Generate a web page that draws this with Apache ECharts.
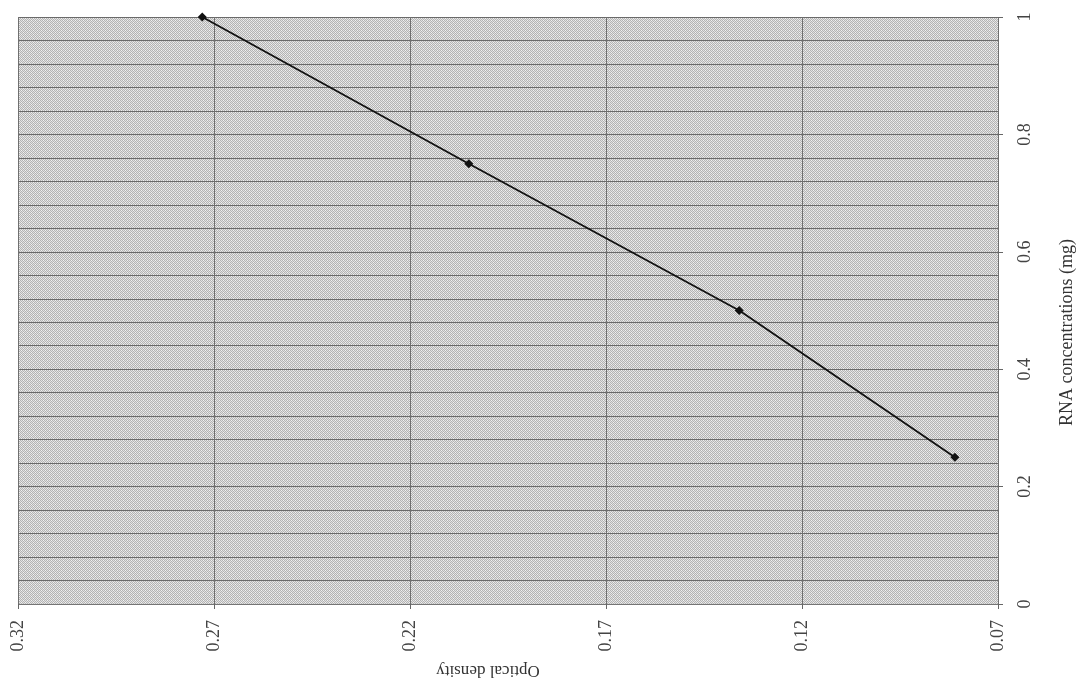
<!DOCTYPE html>
<html>
<head>
<meta charset="utf-8">
<script src="https://cdn.jsdelivr.net/npm/echarts@6/dist/echarts.min.js"></script>
<style>
html, body { margin: 0; padding: 0; background: #fff; }
#chart { width: 1076px; height: 688px; }
</style>
</head>
<body>
<div id="chart"></div>
<script>
// RNA concentration (mg) vs optical density, drawn turned on its side like the scan
var rnaConc = [0.25, 0.5, 0.75, 1];
var opticalDensity = [0.081, 0.136, 0.205, 0.273];
var odTicks = [0.07, 0.12, 0.17, 0.22, 0.27, 0.32];
var rnaTicks = [0, 0.2, 0.4, 0.6, 0.8, 1];

// dotted grey texture for the plot area
function makeTexture(){
	var c = document.createElement('canvas');
	c.width = 4; c.height = 4;
	var ctx = c.getContext('2d');
	ctx.fillStyle = '#e2e2e2';
	ctx.fillRect(0, 0, 4, 4);
	ctx.fillStyle = '#b3b3b3';
	var pts = [[0,0],[2,0],[1,1],[3,1],[0,2],[2,2],[1,3],[3,3]];
	for(var i=0;i<pts.length;i++){
		ctx.fillRect(pts[i][0], pts[i][1], 1, 1);
	}
	ctx.fillStyle = '#f2f2f2';
	ctx.fillRect(3, 0, 1, 1);
	ctx.fillRect(1, 2, 1, 1);
	return c;
}

var seriesData = [];
for(var i=0;i<rnaConc.length;i++){
	seriesData.push([opticalDensity[i], rnaConc[i]]);
}

var font = '"Liberation Serif", "Times New Roman", serif';
var myCharts = echarts.init(document.getElementById('chart'));
var option = {
	animation: false,
	textStyle: { fontFamily: font },
	grid: {
		left: 18, right: 78, top: 17, bottom: 84,
		outerBoundsMode: 'none',
		containLabel: false,
		show: true,
		borderWidth: 0,
		backgroundColor: { image: makeTexture(), repeat: 'repeat' }
	},
	xAxis: {
		type: 'value',
		inverse: true,
		position: 'bottom',
		min: 0.07, max: 0.32, interval: 0.05,
		name: 'Optical density',
		nameLocation: 'middle',
		nameRotate: 180,
		nameGap: 58,
		nameTextStyle: { fontFamily: font, fontSize: 17, color: '#333', padding: [0, 0, 0, 40] },
		axisLine: { show: true, lineStyle: { color: '#777', width: 1, type: 'dotted' } },
		axisTick: { show: true, length: 5, lineStyle: { color: '#666' } },
		axisLabel: {
			rotate: 90, margin: 16, fontFamily: font, fontSize: 18, color: '#444',
			formatter: function(v){ return v.toFixed(2); }
		},
		splitLine: { show: true, lineStyle: { color: '#707070', width: 1 } }
	},
	yAxis: [{
		// fine split lines every 0.04
		type: 'value',
		position: 'right',
		min: 0, max: 1, interval: 0.04,
		axisLine: { show: false },
		axisTick: { show: false },
		axisLabel: { show: false },
		splitLine: { show: true, lineStyle: { color: '#6a6a6a', width: 1 } }
	}, {
		// labelled axis every 0.2
		type: 'value',
		position: 'right',
		min: 0, max: 1, interval: 0.2,
		name: 'RNA concentrations (mg)',
		nameLocation: 'middle',
		nameRotate: 90,
		nameGap: 60,
		nameTextStyle: { fontFamily: font, fontSize: 18, color: '#333', padding: [0, 44, 0, 0] },
		axisLine: { show: false },
		axisTick: { show: true, length: 5, lineStyle: { color: '#666' } },
		axisLabel: {
			rotate: 90, margin: 18, fontFamily: font, fontSize: 18, color: '#444',
			formatter: function(v){ return String(Math.round(v*10)/10); }
		},
		splitLine: { show: false }
	}],
	series: [{
		type: 'line',
		yAxisIndex: 0,
		data: seriesData,
		symbol: 'diamond',
		symbolSize: 9,
		lineStyle: { color: '#111', width: 1.8 },
		itemStyle: { color: '#111' }
	}]
};
myCharts.setOption(option);
</script>
</body>
</html>
